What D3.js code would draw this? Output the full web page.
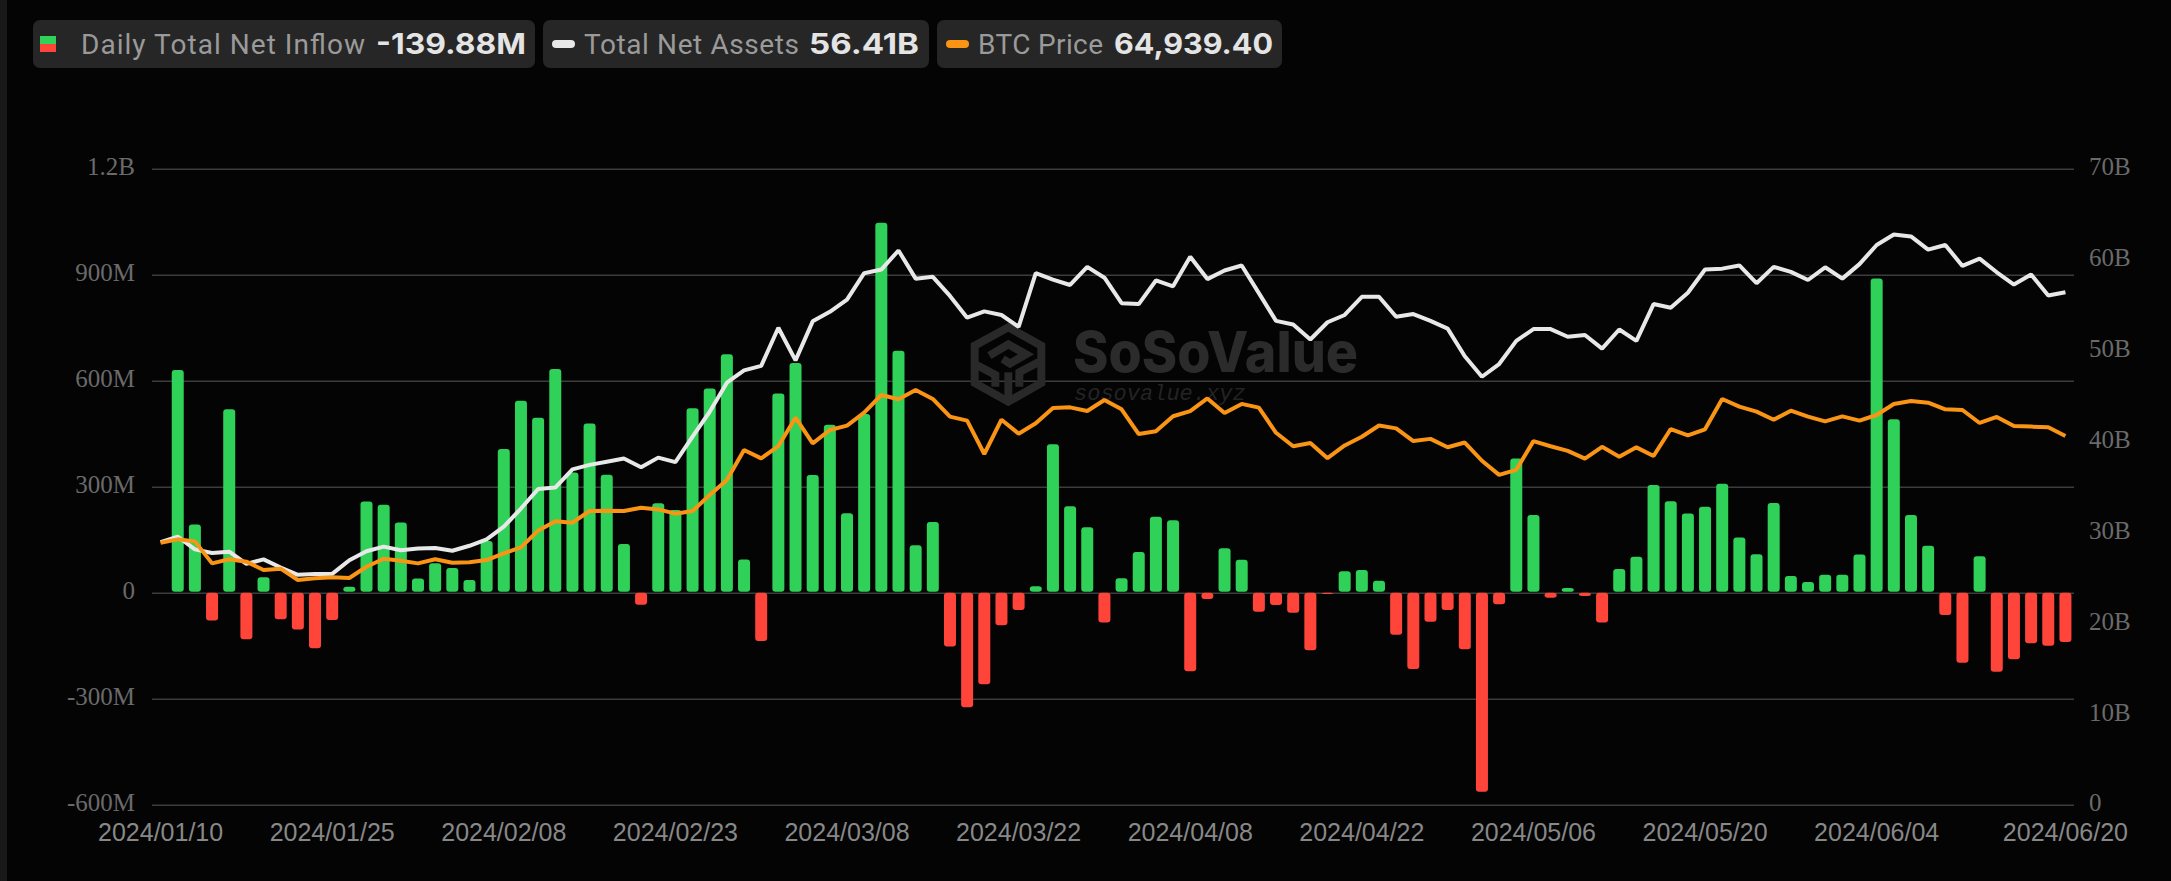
<!DOCTYPE html>
<html>
<head>
<meta charset="utf-8">
<script src="https://cdn.jsdelivr.net/npm/d3@7"></script>
<style>
  html, body { margin: 0; padding: 0; background: #040404; overflow: hidden; }
  svg { display: block; }
</style>
</head>
<body>
<svg width="2171" height="881"></svg>
<script>
// trading days, 2024
var dates = [
  '01/10','01/11','01/12','01/16','01/17','01/18','01/19','01/22','01/23','01/24','01/25','01/26','01/29','01/30','01/31','02/01',
  '02/02','02/05','02/06','02/07','02/08','02/09','02/12','02/13','02/14','02/15','02/16','02/20','02/21','02/22','02/23','02/26',
  '02/27','02/28','02/29','03/01','03/04','03/05','03/06','03/07','03/08','03/11','03/12','03/13','03/14','03/15','03/18','03/19',
  '03/20','03/21','03/22','03/25','03/26','03/27','03/28','04/01','04/02','04/03','04/04','04/05','04/08','04/09','04/10','04/11',
  '04/12','04/15','04/16','04/17','04/18','04/19','04/22','04/23','04/24','04/25','04/26','04/29','04/30','05/01','05/02','05/03',
  '05/06','05/07','05/08','05/09','05/10','05/13','05/14','05/15','05/16','05/17','05/20','05/21','05/22','05/23','05/24','05/28',
  '05/29','05/30','05/31','06/03','06/04','06/05','06/06','06/07','06/10','06/11','06/12','06/13','06/14','06/17','06/18','06/20'
].map(function(d) { return '2024/' + d; });

// millions of USD
var netInflow = [
  null,630,193,-79,519,-132,44,-75,-104,-157,-77,17,258,249,199,40,
  83,70,36,146,407,543,495,633,340,479,334,138,-34,253,234,522,
  578,675,94,-137,564,650,333,475,225,506,1047,685,134,200,-152,-324,
  -259,-92,-49,18,420,245,185,-84,41,115,215,205,-222,-18,126,93,
  -54,-35,-57,-163,-2,61,64,34,-119,-216,-82,-49,-160,-563,-33,380,
  220,-14,13,-9,-84,67,102,305,259,224,243,308,156,109,254,47,
  30,51,51,108,889,491,220,133,-63,-198,103,-224,-188,-143,-150,-139.88
];

// billions of USD
var totalNetAssets = [
  28.9,29.5,28.1,27.7,27.85,26.5,27.0,26.1,25.3,25.4,25.4,26.9,27.9,28.4,28.0,28.2,
  28.25,27.95,28.5,29.2,30.6,32.6,34.75,34.9,36.9,37.4,37.75,38.1,37.15,38.2,37.7,40.5,
  43.25,46.45,47.8,48.3,52.5,48.9,53.2,54.25,55.6,58.5,58.9,61.0,57.9,58.1,56.0,53.6,
  54.3,53.9,52.6,58.5,57.8,57.2,59.2,58.0,55.2,55.1,57.7,57.05,60.3,57.85,58.8,59.35,
  56.3,53.25,52.85,51.2,53.1,53.9,55.9,55.9,53.7,54.0,53.25,52.4,49.35,47.1,48.5,51.05,
  52.35,52.35,51.5,51.7,50.2,52.3,51.05,55.1,54.7,56.35,58.9,59.0,59.35,57.4,59.2,58.65,
  57.75,59.15,57.9,59.5,61.6,62.75,62.55,61.1,61.6,59.3,60.1,58.6,57.25,58.35,56.05,56.41
];

// USD
var btcPrice = [
  46140,46730,46370,42500,43220,42800,41330,41560,39570,39860,40040,39920,41910,43320,42970,42500,
  43220,42620,42680,43090,44260,45320,48260,49900,49670,51720,51780,51720,52300,52000,51250,51720,
  54540,57180,62460,60990,63160,68150,63630,65980,66750,69040,72150,71390,73030,71450,68340,67630,
  61760,67800,65340,67160,69860,69970,69330,71270,69620,65270,65770,68400,69300,71540,68980,70580,
  69920,65500,63130,63700,61020,63260,64800,66780,66270,64030,64420,62950,63780,60570,58080,58970,
  64030,63130,62300,60950,63020,61280,62930,61400,66160,65050,66100,71440,70090,69210,67800,69390,
  68330,67510,68390,67630,68630,70570,71100,70800,69630,69510,67220,68280,66700,66580,66460,64939.4
];

var leftTicks = [-600, -300, 0, 300, 600, 900, 1200];
var leftTickLabels = ['-600M', '-300M', '0', '300M', '600M', '900M', '1.2B'];
var rightTicks = [0, 10, 20, 30, 40, 50, 60, 70];
var rightTickLabels = ['0', '10B', '20B', '30B', '40B', '50B', '60B', '70B'];
var xTickDates = ['2024/01/10','2024/01/25','2024/02/08','2024/02/23','2024/03/08','2024/03/22',
  '2024/04/08','2024/04/22','2024/05/06','2024/05/20','2024/06/04','2024/06/20'];

var green = '#30d158', red = '#ff453a', white = '#e8e8e8', orange = '#fa9414';
var plotLeft = 152, plotRight = 2074, plotTop = 168.7, plotBottom = 804.7;

var svg = d3.select('svg');

var x = d3.scaleBand().domain(dates).range([plotLeft, plotRight]);
var yFlow = d3.scaleLinear().domain([-600, 1200]).range([plotBottom, plotTop]);
var yAssets = d3.scaleLinear().domain([0, 70]).range([plotBottom, plotTop]);
var yPrice = d3.scaleLinear().domain([0, 112000]).range([plotBottom, plotTop]);

function cx(i) { return x(dates[i]) + x.bandwidth() / 2; }

// side stripe of the page
svg.append('rect').attr('x', 0).attr('y', 0).attr('width', 7).attr('height', 881).attr('fill', '#181818');

// axes, the left one also draws the grid
var leftAxis = d3.axisLeft(yFlow)
  .tickValues(leftTicks)
  .tickSize(-(plotRight - plotLeft))
  .tickPadding(17)
  .tickFormat(function(d, i) { return leftTickLabels[i]; });

var gLeft = svg.append('g').attr('transform', 'translate(' + plotLeft + ',0)').call(leftAxis);
gLeft.select('.domain').remove();
gLeft.selectAll('line').attr('stroke', '#3c3c3c').attr('stroke-width', 1.6);
gLeft.selectAll('text')
  .attr('fill', '#6a6a6a')
  .attr('dy', '0.25em')
  .style('font', '25px "Liberation Serif"');

var rightAxis = d3.axisRight(yAssets)
  .tickValues(rightTicks)
  .tickSize(0)
  .tickPadding(15)
  .tickFormat(function(d, i) { return rightTickLabels[i]; });

var gRight = svg.append('g').attr('transform', 'translate(' + plotRight + ',0)').call(rightAxis);
gRight.select('.domain').remove();
gRight.selectAll('text')
  .attr('fill', '#6a6a6a')
  .attr('dy', '0.25em')
  .style('font', '25px "Liberation Serif"');

var bottomAxis = d3.axisBottom(x)
  .tickValues(xTickDates)
  .tickSize(0)
  .tickPadding(19);

var gBottom = svg.append('g').attr('transform', 'translate(0,' + plotBottom + ')').call(bottomAxis);
gBottom.select('.domain').remove();
gBottom.selectAll('text')
  .attr('fill', '#888888')
  .style('font', '25px "Liberation Sans"');

// watermark
var mark = svg.append('g').attr('transform', 'translate(960,315) scale(0.3333)')
  .attr('fill', 'none').attr('stroke', '#292929').attr('stroke-width', 24);
mark.append('path').attr('d', 'M145,37 L244,92 L244,204 L145,260 L44,204 L44,92 Z');
mark.append('path').attr('d', 'M88,122 L145,88 L198,118 L150,146 L128,132');
mark.append('path').attr('d', 'M145,172 L145,255');
mark.append('path').attr('d', 'M50,150 L106,180 L106,215');
mark.append('path').attr('d', 'M178,215 L178,172 L238,140');
svg.append('text').text('SoSoValue')
  .attr('x', 1073).attr('y', 372)
  .attr('textLength', 285).attr('lengthAdjust', 'spacingAndGlyphs')
  .attr('fill', '#2b2b2b')
  .style('font', '800 56px Inter');
svg.append('text').text('sosovalue.xyz')
  .attr('x', 1074).attr('y', 400)
  .attr('fill', '#232323')
  .style('font', 'italic 22px "Liberation Mono"');

// bars
svg.append('g').selectAll('rect')
  .data(netInflow.map(function(v, i) { return { v: v, i: i }; }).filter(function(d) { return d.v !== null; }))
  .enter()
  .append('rect')
  .attr('x', function(d) { return cx(d.i) - 6; })
  .attr('width', 12)
  .attr('y', function(d) { return d.v > 0 ? yFlow(d.v) : yFlow(0); })
  .attr('height', function(d) { return Math.max(1.2, Math.abs(yFlow(d.v) - yFlow(0)) - (d.v > 0 ? 1 : 0)); })
  .attr('rx', 3)
  .attr('fill', function(d) { return d.v > 0 ? green : red; });

// lines
var assetsLine = d3.line()
  .x(function(d, i) { return cx(i); })
  .y(function(d) { return yAssets(d); });
var priceLine = d3.line()
  .x(function(d, i) { return cx(i); })
  .y(function(d) { return yPrice(d); });

svg.append('path').attr('d', assetsLine(totalNetAssets))
  .attr('fill', 'none').attr('stroke', white).attr('stroke-width', 4).attr('stroke-linejoin', 'bevel');
svg.append('path').attr('d', priceLine(btcPrice))
  .attr('fill', 'none').attr('stroke', orange).attr('stroke-width', 4).attr('stroke-linejoin', 'bevel');

// legend chips
var chips = [
  { x: 33, w: 502, label: 'Daily Total Net Inflow', lx: 81, lw: 284, value: '-139.88M', vx: 376, vw: 150 },
  { x: 543, w: 386, label: 'Total Net Assets', lx: 584, lw: 215, value: '56.41B', vx: 809, vw: 110 },
  { x: 937, w: 345, label: 'BTC Price', lx: 978, lw: 125, value: '64,939.40', vx: 1114, vw: 159 }
];

var chip = svg.append('g').selectAll('g').data(chips).enter().append('g');
chip.append('rect')
  .attr('x', function(d) { return d.x; }).attr('y', 20)
  .attr('width', function(d) { return d.w; }).attr('height', 48)
  .attr('rx', 7).attr('fill', '#262626');
chip.append('text').text(function(d) { return d.label; })
  .attr('x', function(d) { return d.lx; }).attr('y', 54)
  .attr('textLength', function(d) { return d.lw; })
  .attr('fill', '#9a9a9a')
  .style('font', '28px Roboto');
chip.append('text').text(function(d) { return d.value; })
  .attr('x', function(d) { return d.vx; }).attr('y', 54)
  .attr('textLength', function(d) { return d.vw; })
  .attr('lengthAdjust', 'spacingAndGlyphs')
  .attr('fill', '#e4e4e4')
  .style('font', '700 29px Inter');

svg.append('rect').attr('x', 40).attr('y', 36).attr('width', 16).attr('height', 8).attr('fill', green);
svg.append('rect').attr('x', 40).attr('y', 44).attr('width', 16).attr('height', 8).attr('fill', red);
svg.append('rect').attr('x', 552).attr('y', 40).attr('width', 23).attr('height', 8).attr('rx', 4).attr('fill', white);
svg.append('rect').attr('x', 946).attr('y', 40).attr('width', 23).attr('height', 8).attr('rx', 4).attr('fill', orange);
</script>
</body>
</html>
